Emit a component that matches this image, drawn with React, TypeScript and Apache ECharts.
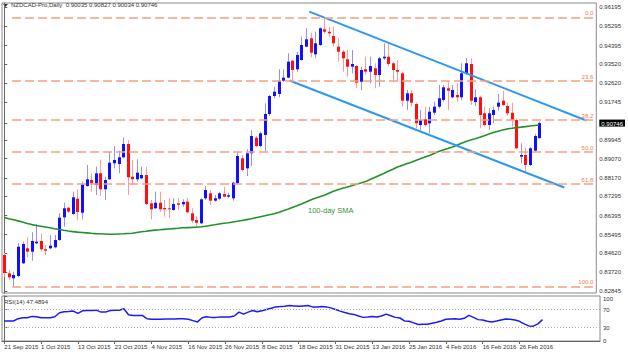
import React, { useEffect, useRef } from "react";
import * as echarts from "echarts";

// ---- Daily candles ----
const OPEN = [0.84538,0.83677,0.83442,0.8355,0.84148,0.84854,0.84694,0.85089,0.85197,0.84806,0.84854,0.84901,0.85244,0.86312,0.86764,0.86468,0.87188,0.86529,0.87785,0.88068,0.87832,0.88383,0.8763,0.88101,0.88854,0.88821,0.89136,0.89762,0.88223,0.88101,0.88148,0.88303,0.86971,0.86736,0.86999,0.8675,0.86736,0.86656,0.86971,0.86924,0.87047,0.86501,0.86185,0.8603,0.87207,0.87442,0.87094,0.87188,0.87409,0.87282,0.87207,0.87912,0.89089,0.88618,0.89324,0.90058,0.89668,0.90185,0.91174,0.92021,0.92115,0.92741,0.92882,0.93682,0.93277,0.93715,0.94341,0.94736,0.93983,0.94421,0.9516,0.95047,0.94844,0.94341,0.94106,0.93748,0.934,0.93433,0.92694,0.93277,0.93164,0.93324,0.93009,0.93795,0.9387,0.9356,0.93244,0.93089,0.918,0.92148,0.91644,0.90656,0.90924,0.90736,0.91235,0.91517,0.91833,0.92383,0.9196,0.92068,0.9196,0.93089,0.93527,0.91738,0.9196,0.91207,0.90656,0.91127,0.91517,0.918,0.9155,0.91235,0.90891,0.89164,0.89244,0.88774,0.89447,0.90035];
const HIGH = [0.84632,0.83832,0.83752,0.85089,0.85164,0.85371,0.85607,0.85997,0.85559,0.85009,0.85479,0.85479,0.86501,0.86999,0.86797,0.87517,0.8763,0.87988,0.88774,0.88383,0.88694,0.89009,0.88223,0.894,0.89668,0.89447,0.90077,0.8995,0.89009,0.89042,0.88694,0.88694,0.87127,0.87517,0.87517,0.87127,0.87207,0.87207,0.87207,0.87159,0.87207,0.86736,0.86374,0.87207,0.87785,0.87597,0.87362,0.87517,0.87752,0.8747,0.87988,0.894,0.89244,0.89513,0.90421,0.90138,0.90341,0.91677,0.92068,0.92458,0.93277,0.93277,0.9403,0.93715,0.94106,0.94811,0.95207,0.95,0.95047,0.95254,0.95724,0.95282,0.95282,0.94736,0.94186,0.94186,0.94186,0.9348,0.934,0.9387,0.9387,0.9356,0.9387,0.94501,0.94501,0.93635,0.93715,0.93164,0.92303,0.92303,0.91706,0.91362,0.91517,0.91517,0.91753,0.92538,0.92538,0.92694,0.92538,0.92618,0.9356,0.93795,0.93795,0.92336,0.92021,0.91517,0.91442,0.91517,0.92115,0.9227,0.91706,0.91706,0.90971,0.89795,0.8956,0.89621,0.90233,0.90827];
const LOW = [0.83517,0.83362,0.83065,0.83503,0.84115,0.8443,0.8427,0.85056,0.84694,0.84538,0.84806,0.84854,0.85211,0.8587,0.86529,0.86421,0.86185,0.86218,0.87752,0.87517,0.87362,0.87315,0.87127,0.88068,0.88618,0.88383,0.89089,0.87362,0.87832,0.87988,0.88101,0.86891,0.86218,0.86703,0.86576,0.86341,0.86265,0.86623,0.86656,0.86811,0.86501,0.8603,0.8587,0.85997,0.87127,0.86891,0.87047,0.87127,0.87254,0.87207,0.87094,0.8788,0.88458,0.88256,0.88727,0.89607,0.89607,0.894,0.9108,0.91913,0.9196,0.92694,0.92854,0.92741,0.93164,0.93682,0.94313,0.93842,0.93795,0.94374,0.94971,0.94811,0.94341,0.93635,0.93164,0.92929,0.93089,0.92383,0.92303,0.93009,0.92618,0.92383,0.92458,0.93715,0.934,0.92694,0.92694,0.91517,0.91362,0.91517,0.90501,0.90421,0.90576,0.90266,0.91127,0.91442,0.91753,0.91362,0.91913,0.91753,0.91833,0.93009,0.91597,0.9155,0.90501,0.90576,0.90421,0.90736,0.91329,0.9155,0.9108,0.90576,0.89513,0.88854,0.88458,0.88727,0.89353,0.90034];
const CLOSE = [0.83691,0.83489,0.83597,0.84929,0.85056,0.84694,0.85197,0.85164,0.84806,0.84741,0.84976,0.85244,0.86294,0.86736,0.86576,0.87254,0.86562,0.87865,0.88101,0.87912,0.88383,0.8763,0.88068,0.88882,0.89009,0.89136,0.89762,0.88195,0.88101,0.88411,0.88303,0.86938,0.86689,0.86999,0.86689,0.86689,0.86689,0.86938,0.86905,0.87032,0.86548,0.86152,0.86058,0.87159,0.87597,0.87094,0.87207,0.87442,0.87282,0.87348,0.87941,0.89197,0.88538,0.89324,0.90138,0.89668,0.90266,0.91174,0.92021,0.92223,0.92741,0.92882,0.93635,0.93244,0.9395,0.94421,0.94689,0.94059,0.94501,0.95207,0.95047,0.94971,0.94501,0.94106,0.93795,0.934,0.93527,0.92647,0.93244,0.93164,0.93433,0.93009,0.93795,0.9387,0.93527,0.93244,0.93164,0.918,0.92148,0.91706,0.90736,0.90891,0.90656,0.91282,0.91517,0.91913,0.9243,0.9227,0.92303,0.9196,0.93089,0.9356,0.918,0.9196,0.91127,0.90656,0.91207,0.91362,0.91706,0.91597,0.91207,0.90891,0.8956,0.89244,0.88774,0.8956,0.90138,0.90746];

// ---- 100-day SMA ----
const SMA100 = [0.86303,0.86246,0.86195,0.86143,0.86091,0.86021,0.85969,0.85927,0.85894,0.85856,0.85818,0.85776,0.85738,0.85701,0.85668,0.85639,0.85616,0.85597,0.85578,0.85559,0.85545,0.85536,0.85527,0.85517,0.85517,0.85527,0.85536,0.8555,0.85564,0.85597,0.8563,0.85658,0.85687,0.8571,0.85724,0.85743,0.85762,0.85781,0.85799,0.85818,0.85828,0.85837,0.85847,0.85865,0.85894,0.85927,0.85959,0.85997,0.8603,0.86058,0.86091,0.86124,0.86162,0.86204,0.86246,0.86294,0.86341,0.86383,0.8643,0.86482,0.86543,0.86618,0.86694,0.86774,0.86854,0.86938,0.87032,0.87127,0.87207,0.87277,0.87352,0.87447,0.87541,0.87611,0.87677,0.87738,0.878,0.87865,0.87927,0.87992,0.88087,0.88181,0.8828,0.88378,0.88477,0.88576,0.8868,0.88755,0.8883,0.88905,0.88985,0.89065,0.89145,0.89225,0.89315,0.89409,0.8948,0.8955,0.89621,0.89701,0.89795,0.8988,0.8995,0.90011,0.90077,0.90153,0.90233,0.90303,0.90364,0.90421,0.90472,0.90501,0.90534,0.90557,0.90581,0.90609,0.90632,0.90656];

// ---- RSI(14) ----
const RSI14 = [44.5,44.5,44.5,49.6,51.8,51.8,54.7,54,51.8,51.8,51.8,54,62.7,64.9,65.6,66.4,61.3,67,67.8,67.8,68.5,64.2,64.2,67.8,68.5,68.5,71.5,58.4,56.9,56.9,56.9,49.6,48.2,48.2,48.2,48.9,48.9,48.9,49.6,49.6,48.2,45.3,42.4,51.8,54,52.5,52.5,53.3,53.3,53.3,55.5,64.2,59.8,64.2,67.8,64.9,67,70,72.9,75.8,76.5,77.3,78.7,78,77.3,78,78.7,75.8,75.8,76.5,75.8,73.6,70,66.4,63.5,60.5,59.1,55.5,52.5,53.3,54.7,53.3,55.5,59.8,56.2,52.5,51.1,44.5,43.8,40.2,36.5,37.3,37.3,39.5,41.6,44.5,48.2,48.9,49.6,48.2,50.4,56.9,52.5,47.5,46.7,43.8,42.4,44.5,46.7,48.9,48.2,46.7,43.8,38,33.6,32.9,38,47.4894];

// ---- axes ----
const DATE_LABELS = ["21 Sep 2015","1 Oct 2015","13 Oct 2015","23 Oct 2015","4 Nov 2015","16 Nov 2015","26 Nov 2015","8 Dec 2015","18 Dec 2015","31 Dec 2015","13 Jan 2016","25 Jan 2016","4 Feb 2016","16 Feb 2016","26 Feb 2016"];
const DATE_LABEL_STEP = 8; // bars between date labels
const PRICE_TICKS = [0.96195,0.95295,0.94395,0.9352,0.9262,0.91745,0.90746,0.89945,0.8907,0.8817,0.87295,0.86395,0.85495,0.8462,0.8372,0.82845];
const CURRENT_PRICE = 0.90746;
const RSI_TICKS = [0, 30, 70, 100];
const RSI_LEVELS = [30, 70];

// ---- drawn objects ----
const FIB_HIGH = 0.95724;
const FIB_LOW = 0.83065;
const FIB_LEVELS = [0, 23.6, 38.2, 50, 61.8, 100];
const CHANNEL_UPPER = [[66.7, 0.95988], [127.3, 0.90868]];
const CHANNEL_LOWER = [[62.4, 0.9275], [122.5, 0.87715]];

const HEADER = "NZDCAD-Pro,Daily  0.90035 0.90827 0.90034 0.90746";
const RSI_TITLE = "RSI(14) 47.4894";
const SMA_TITLE = "100-day SMA";

const FONT = '"Liberation Sans", "DejaVu Sans", sans-serif';
const NARROW = '"Liberation Sans Narrow", "Liberation Sans", sans-serif';
const X_MIN = -0.5;
const X_MAX = 129.5;
const Y_MIN = 0.8275;
const Y_MAX = 0.96397;

export default function App() {
  const ref = useRef<HTMLDivElement>(null);
  useEffect(() => {
    if (!ref.current) return;
    const chart = echarts.init(ref.current, null, { renderer: "svg" });
    const candles = OPEN.map((o, i) => [i, o, CLOSE[i], LOW[i], HIGH[i]]);
    const dateTicks = DATE_LABELS.map((_, k) => k * DATE_LABEL_STEP);
    const fibStart = 1.7;
    const fibEnd = X_MAX;

    const option: any = {
      animation: false,
      backgroundColor: "#ffffff",
      textStyle: { fontFamily: FONT },
      grid: [
        { left: 2, top: 3, width: 598, height: 290, show: true, borderColor: "#8a8a8a", borderWidth: 1, backgroundColor: "transparent" },
        { left: 2, top: 296, width: 598, height: 45, show: true, borderColor: "#8a8a8a", borderWidth: 1, backgroundColor: "transparent" },
      ],
      xAxis: [
        { type: "value", gridIndex: 0, min: X_MIN, max: X_MAX, show: false, splitLine: { show: false } },
        {
          type: "value", gridIndex: 1, min: X_MIN, max: X_MAX, position: "bottom",
          axisLine: { show: true, lineStyle: { color: "#666" } },
          axisTick: { show: true, length: 3, customValues: dateTicks, lineStyle: { color: "#666" } },
          axisLabel: {
            customValues: dateTicks, fontSize: 6, color: "#333", align: "left", margin: 3, fontFamily: NARROW,
            showMinLabel: true, showMaxLabel: true, hideOverlap: false,
            formatter: (v: number) => DATE_LABELS[Math.round(v / DATE_LABEL_STEP)] || "",
          },
          splitLine: { show: false },
        },
      ],
      yAxis: [
        {
          type: "value", gridIndex: 0, position: "right", min: Y_MIN, max: Y_MAX, scale: true,
          axisLine: { show: true, lineStyle: { color: "#666" } },
          axisTick: { show: true, length: 3, customValues: PRICE_TICKS, lineStyle: { color: "#666" } },
          axisLabel: {
            customValues: PRICE_TICKS, fontSize: 6, color: "#333", margin: 3, fontFamily: FONT,
            showMinLabel: true, showMaxLabel: true,
            formatter: (v: number) => (Math.abs(v - CURRENT_PRICE) < 1e-7 ? `{cur|${v.toFixed(5)}}` : v.toFixed(5)),
            rich: { cur: { backgroundColor: "#000", color: "#fff", padding: [1, 2, 0, 2], fontSize: 6, fontFamily: FONT } },
          },
          splitLine: { show: false },
        },
        {
          type: "value", gridIndex: 1, position: "right", min: 0, max: 100,
          axisLine: { show: true, lineStyle: { color: "#666" } },
          axisTick: { show: true, length: 3, customValues: RSI_TICKS, lineStyle: { color: "#666" } },
          axisLabel: {
            customValues: RSI_TICKS, fontSize: 6, color: "#333", margin: 3, fontFamily: FONT, showMinLabel: true, showMaxLabel: true,
            formatter: (v: number) => (v === 100 ? `{top|${v}}` : `${v}`),
            rich: { top: { padding: [6, 0, 0, 0], fontSize: 6, fontFamily: FONT, color: "#333" } },
          },
          splitLine: { show: false },
        },
      ],
      series: [
        {
          type: "line", xAxisIndex: 0, yAxisIndex: 0, data: [], silent: true,
          markLine: {
            silent: true, symbol: ["none", "none"],
            lineStyle: { color: "#f6a07e", width: 1.5, type: [9, 4] },
            label: { show: true, position: "insideEndTop", color: "#f07a55", fontSize: 6, fontFamily: FONT, distance: [3, 1] },
            data: FIB_LEVELS.map((r) => {
              const p = FIB_HIGH - (r / 100) * (FIB_HIGH - FIB_LOW);
              return [
                { coord: [fibStart, p], name: r.toFixed(1) },
                { coord: [fibEnd, p], label: { formatter: r.toFixed(1) } },
              ];
            }),
          },
        },
        {
          type: "line", xAxisIndex: 0, yAxisIndex: 0, name: "sma",
          data: SMA100.map((v, i) => [i, v]), showSymbol: false, symbol: "none",
          lineStyle: { color: "#23912a", width: 1.6 }, silent: true,
        },
        {
          type: "line", xAxisIndex: 0, yAxisIndex: 0, data: CHANNEL_UPPER, showSymbol: false, symbol: "none",
          lineStyle: { color: "#2d98ee", width: 2 }, silent: true,
        },
        {
          type: "line", xAxisIndex: 0, yAxisIndex: 0, data: CHANNEL_LOWER, showSymbol: false, symbol: "none",
          lineStyle: { color: "#2d98ee", width: 2 }, silent: true,
        },
        {
          type: "custom", xAxisIndex: 0, yAxisIndex: 0, data: candles, silent: true,
          encode: { x: 0, y: [1, 2, 3, 4] },
          renderItem: (params: any, api: any) => {
            const i = api.value(0);
            const o = api.value(1), c = api.value(2), l = api.value(3), h = api.value(4);
            const pH = api.coord([i, h]);
            const pL = api.coord([i, l]);
            const pO = api.coord([i, o]);
            const pC = api.coord([i, c]);
            const up = c >= o;
            const x = Math.round(pH[0]) + 0.5;
            const top = Math.min(pO[1], pC[1]);
            const bh = Math.max(Math.abs(pO[1] - pC[1]), 1);
            return {
              type: "group",
              children: [
                { type: "line", shape: { x1: x, y1: pH[1], x2: x, y2: pL[1] }, style: { stroke: up ? "#9191ff" : "#ff9a9a", lineWidth: 1 } },
                { type: "rect", shape: { x: x - 1.5, y: top, width: 3, height: bh }, style: { fill: up ? "#1010ff" : "#ff1010" } },
              ],
            };
          },
        },
        {
          type: "line", xAxisIndex: 1, yAxisIndex: 1, data: RSI14.map((v, i) => [i, v]),
          showSymbol: false, symbol: "none", lineStyle: { color: "#1a1aff", width: 1.5 }, silent: true,
          markLine: {
            silent: true, symbol: ["none", "none"], label: { show: false },
            lineStyle: { color: "#b0b0b0", width: 1, type: [1, 2] },
            data: RSI_LEVELS.map((v) => ({ yAxis: v })),
          },
        },
      ],
      graphic: [
        { type: "polygon", shape: { points: [[3, 4], [8, 4], [5.5, 7]] }, style: { fill: "#333" } },
        { type: "text", x: 11, y: 2, style: { text: HEADER, font: `6px ${FONT}`, fill: "#333" } },
        { type: "text", x: 4, y: 299, style: { text: RSI_TITLE, font: `6px ${FONT}`, fill: "#333" } },
        { type: "text", x: 308, y: 206, style: { text: SMA_TITLE, font: `7.5px ${FONT}`, fill: "#2e9a2e" } },
      ],
    };
    chart.setOption(option);
    return () => chart.dispose();
  }, []);
  return (
    <div
      ref={ref}
      style={{ position: "fixed", left: 0, top: 0, width: 628, height: 355, background: "#fff" }}
    />
  );
}
